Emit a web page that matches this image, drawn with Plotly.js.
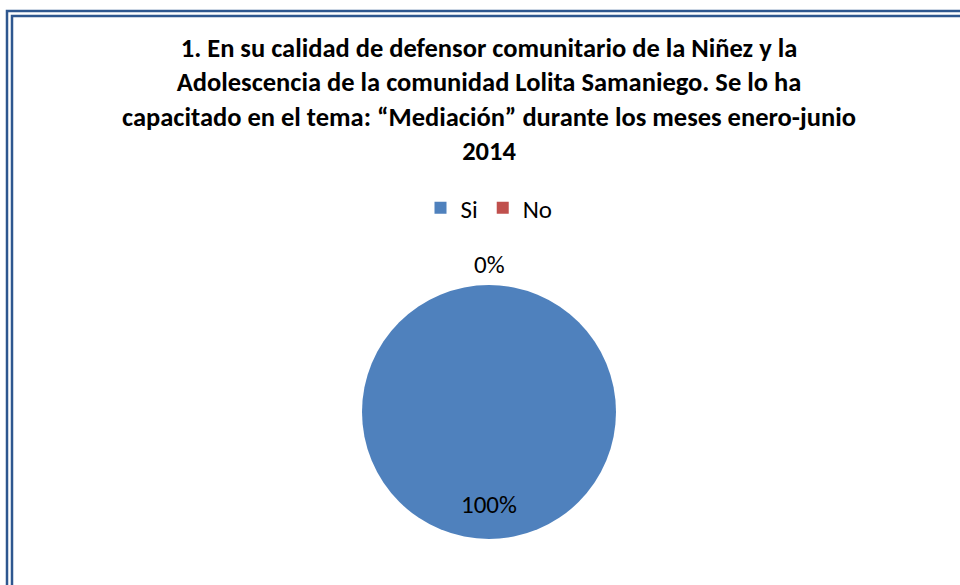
<!DOCTYPE html>
<html>
<head>
<meta charset="utf-8">
<script src="https://cdn.plot.ly/plotly-3.0.1.min.js"></script>
<style>html,body{margin:0;padding:0;background:#fff;}#chart{width:960px;height:585px;}</style>
</head>
<body>
<div id="chart"></div>
<script>
const categories = ["Si", "No"];
const values = [100, 0];
const colors = ["#4F81BD", "#C0504D"];
const titleText = "1. En su calidad de defensor comunitario de la Niñez y la<br>Adolescencia de la comunidad Lolita Samaniego. Se lo ha<br>capacitado en el tema: “Mediación” durante los meses enero-junio<br>2014";

const total = values.reduce((a, b) => a + b, 0);
const pct = values.map(v => Math.round(v / total * 100) + "%");
const FONT = "Carlito, Lato, 'Open Sans', sans-serif";

const trace = {
  type: "pie",
  labels: categories,
  values: values,
  marker: {colors: colors, line: {width: 0}},
  sort: false,
  direction: "clockwise",
  rotation: 0,
  textinfo: "none",
  hoverinfo: "label+percent",
  domain: {x: [362/960, 616/960], y: [46/585, 300/585]}
};

const layout = {
  width: 960, height: 585,
  margin: {l: 0, r: 0, t: 0, b: 0},
  paper_bgcolor: "#fff",
  font: {family: FONT, color: "#000"},
  title: {
    text: "<b>" + titleText + "</b>",
    font: {family: FONT, size: 26.5, color: "#000"},
    x: 489/960, xanchor: "center",
    y: 1 - 57/585, yanchor: "middle",
    xref: "paper", yref: "container"
  },
  showlegend: true,
  legend: {
    orientation: "h",
    x: 489/960, xanchor: "center",
    y: 1 - 208/585, yanchor: "middle",
    font: {family: FONT, size: 25, color: "#000"},
    itemwidth: 30,
    traceorder: "normal"
  },
  annotations: [
    {text: pct[1], x: 489/960, y: 1 - 265/585, xref: "paper", yref: "paper", yanchor: "middle", showarrow: false, font: {family: FONT, size: 25, color: "#000"}},
    {text: pct[0], x: 489/960, y: 1 - 504/585, xref: "paper", yref: "paper", yanchor: "middle", showarrow: false, font: {family: FONT, size: 25, color: "#000"}}
  ],
  shapes: [
    {type: "rect", xref: "paper", yref: "paper", x0: 7/960, x1: 1.05, y0: -0.05, y1: 1 - 11/585, line: {color: "#2E578F", width: 2.5}},
    {type: "rect", xref: "paper", yref: "paper", x0: 12/960, x1: 1.05, y0: -0.05, y1: 1 - 16/585, line: {color: "#2E578F", width: 2.5}}
  ]
};

Plotly.newPlot("chart", [trace], layout, {displayModeBar: false, staticPlot: true});
</script>
</body>
</html>
